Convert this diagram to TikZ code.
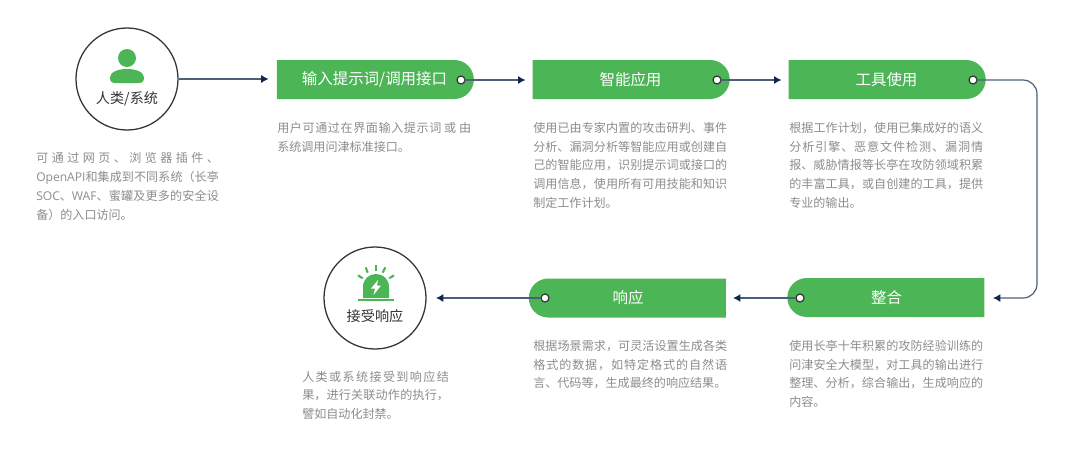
\documentclass[tikz,border=0pt]{standalone}
\usepackage{fontspec}
\usetikzlibrary{arrows.meta,shapes.misc}
\setmainfont{Noto Sans CJK SC}
\newfontfamily\lat{Open Sans}
\XeTeXlinebreaklocale "zh"
\XeTeXlinebreakskip=0pt plus 3pt
\tolerance=10000 \hbadness=10000 \hfuzz=6pt
\definecolor{brandgreen}{HTML}{4CB556}
\definecolor{bodygrey}{HTML}{8C8C8C}
\definecolor{inkdark}{HTML}{333333}
\definecolor{linecol}{HTML}{4D5F78}
\definecolor{tipcol}{HTML}{0F2748}
\newcommand{\descfont}{\fontsize{9.05pt}{14.05pt}\selectfont}
\newcommand{\gp}{\hskip 0pt plus 3pt\relax}
\tikzset{
  stepbar/.style={rounded rectangle, fill=brandgreen, text=white, minimum width=147.75pt, minimum height=29.25pt, inner sep=0pt, font=\fontsize{11.6pt}{14pt}\selectfont},
  barright/.style={stepbar, rounded rectangle left arc=none},
  barleft/.style={stepbar, rounded rectangle right arc=none},
  dotmark/.style={circle, draw=inkdark, fill=white, line width=0.9pt, minimum size=6pt, inner sep=0pt},
  actor/.style={circle, draw=inkdark, line width=0.95pt, minimum size=76.5pt, inner sep=0pt},
  actorlabel/.style={text=inkdark, inner sep=0pt, font=\fontsize{10.6pt}{13pt}\selectfont},
  conn/.style={draw=linecol, line width=0.9pt, -{Latex[length=5.5pt,width=6pt,color=tipcol]}},
  desc/.style={anchor=north west, inner sep=0pt, text=bodygrey, align=justify, font=\descfont},
}
\begin{document}
\begin{tikzpicture}[x=0.75pt,y=-0.75pt]
\useasboundingbox (0,0) rectangle (1080,454);

% actors
\node[actor] (human) at (127,79) {};
\fill[brandgreen] (127,58) circle[radius=6.75pt];
\fill[brandgreen] (110,77.5) .. controls (110,72) and (118,69) .. (127,69) .. controls (136,69) and (144,72) .. (144,77.5) .. controls (144,82) and (142,83) .. (138,83) -- (116,83) .. controls (112,83) and (110,82) .. (110,77.5) -- cycle;
\node[actorlabel] (humanlabel) at (127,99) {人类/系统};

\node[actor] (resp) at (375,298) {};
\fill[brandgreen] (363,298) -- (363,287) .. controls (363,279) and (369,274) .. (376,274) .. controls (383,274) and (389,279) .. (389,287) -- (389,298) -- cycle;
\fill[brandgreen] (358,298.5) rectangle (394,300.5);
\draw[brandgreen, line width=1.6pt] (375.7,265) -- (375.7,270.5);
\draw[brandgreen, line width=1.6pt] (365.7,267.3) -- (367.7,272.7);
\draw[brandgreen, line width=1.6pt] (385.3,267.3) -- (382.7,272.7);
\draw[brandgreen, line width=1.6pt] (358,275.3) -- (362.7,278.3);
\draw[brandgreen, line width=1.6pt] (394,275.3) -- (389.3,278.3);
\fill[white] (378,280) -- (371,288.5) -- (375,288.5) -- (373.5,295) -- (381,285.5) -- (377,285.5) -- cycle;
\node[actorlabel] (resplabel) at (375,316) {接受响应};

% step bars
\node[barright] (b1) at (374.5,79.5) {输入提示词/调用接口};
\node[barright] (b2) at (630.5,79.5) {智能应用};
\node[barright] (b3) at (886.5,79.5) {工具使用};
\node[barleft]  (b4) at (886.5,297.5) {整合};
\node[barleft]  (b5) at (628,298) {响应};

\node[dotmark] (d1) at (461,80) {};
\node[dotmark] (d2) at (717,80) {};
\node[dotmark] (d3) at (973,80) {};
\node[dotmark] (d4) at (800,298) {};
\node[dotmark] (d5) at (545,298) {};

% connectors
\coordinate (turnA) at (1037,80);
\coordinate (turnB) at (1037,298);
\coordinate (tipD) at (993,298);
\coordinate (tipR) at (436,298);
\draw[conn, shorten >=6pt] (human.east) -- (b1.west |- human.east);
\draw[conn, shorten >=5.25pt] (d1.east) -- (b2.west |- d1.east);
\draw[conn, shorten >=5.25pt] (d2.east) -- (b3.west |- d2.east);
\draw[conn, rounded corners=10.5pt] (d3.east) -- (turnA) -- (turnB) -- (tipD);
\draw[conn, shorten >=5.25pt] (d4.west) -- (b5.east |- d4.west);
\draw[conn] (d5.west) -- (tipR);

% descriptions
\node[desc, text width=137pt] (t0) at (36,152.5) {可通过网页\gp、\gp 浏览器插件\gp、\linebreak{\lat OpenAPI}和集成到不同系统（长亭\linebreak{\lat SOC}、{\lat WAF}、蜜罐及更多的安全设\linebreak 备）的入口访问。};
\node[desc, text width=145.5pt] (t1) at (277,122) {用户可通过在界面输入提示词\ 或\ 由\linebreak 系统调用问津标准接口。};
\node[desc, text width=145.5pt] (t2) at (533,122) {使用已由专家内置的攻击研判、事件\linebreak 分析、漏洞分析等智能应用或创建自\linebreak 己的智能应用，识别提示词或接口的\linebreak 调用信息，使用所有可用技能和知识\linebreak 制定工作计划。};
\node[desc, text width=145.5pt] (t3) at (789,122) {根据工作计划，使用已集成好的语义\linebreak 分析引擎\gp、\gp 恶意文件检测\gp、\gp 漏洞情\linebreak 报、威胁情报等长亭在攻防领域积累\linebreak 的丰富工具，或自创建的工具，提供\linebreak 专业的输出。};
\node[desc, text width=145.5pt] (t4) at (789,340) {使用长亭十年积累的攻防经验训练的\linebreak 问津安全大模型，对工具的输出进行\linebreak 整理、分析，综合输出，生成响应的\linebreak 内容。};
\node[desc, text width=145.5pt] (t5) at (533,340) {根据场景需求，可灵活设置生成各类\linebreak 格式的数据\gp，\gp 如特定格式的自然语\linebreak 言、代码等，生成最终的响应结果。};
\node[desc, text width=110pt] (t6) at (302,370.5) {人类或系统接受到响应结\linebreak 果，进行关联动作的执行，\linebreak 譬如自动化封禁。};
\end{tikzpicture}
\end{document}
